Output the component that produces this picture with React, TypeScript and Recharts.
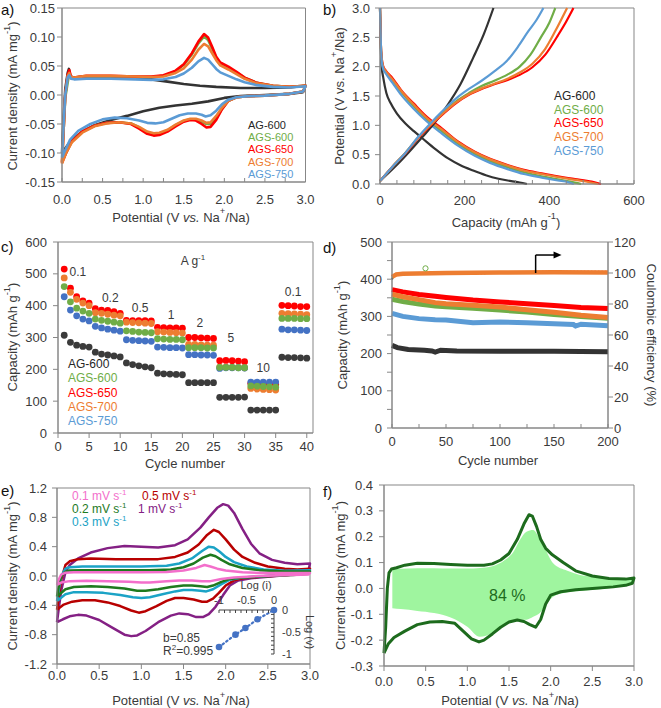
import React from "react";
import {
  ComposedChart,
  ScatterChart,
  Line,
  Area,
  Scatter,
  XAxis,
  YAxis,
  ReferenceArea,
  ReferenceDot,
  ReferenceLine,
} from "recharts";

const FONT = "'Liberation Sans', Arial, Helvetica, sans-serif";
const AXIS = "#878787";
const TXT = "#3a3a3a";

type Pt = [number, number];
type Part = { t: string; i?: boolean; s?: boolean };

// samples shared by panels a-d
const SAMPLES = ["AG-600", "AGS-600", "AGS-650", "AGS-700", "AGS-750"];
const SAMPLE_COLORS = ["#333333", "#70ad47", "#ff0000", "#ed7d31", "#5b9bd5"];
const DOT_COLORS = ["#3b3b3b", "#70ad47", "#ff0000", "#ed7d31", "#4472c4"];
const LEGEND_COLORS = ["#262626", "#70ad47", "#ff0000", "#ed7d31", "#5b9bd5"];

// ---- a) CV curves, 0.1 mV/s ----
const A_XTICKS = [0, 0.25, 0.5, 0.75, 1, 1.25, 1.5, 1.75, 2, 2.25, 2.5, 2.75, 3];
const A_XLABELS = [0, 0.5, 1, 1.5, 2, 2.5, 3];
const A_YTICKS = [-0.15, -0.1, -0.05, 0, 0.05, 0.1, 0.15];

const A_AG600: Pt[] = [
  [0, -0.1], [0.02, -0.04], [0.04, 0.01], [0.07, 0.038], [0.085, 0.045], [0.1, 0.034], [0.13, 0.03],
  [0.3, 0.032], [0.6, 0.032], [0.9, 0.03], [1.1, 0.027], [1.3, 0.023], [1.5, 0.019], [1.7, 0.016],
  [1.9, 0.014], [2.2, 0.012], [2.5, 0.012], [2.8, 0.013], [3, 0.016], [2.97, 0.005], [2.8, 0.002],
  [2.5, 0], [2.2, -0.002], [2, -0.005], [1.8, -0.011], [1.6, -0.015], [1.4, -0.018], [1.2, -0.022],
  [1, -0.028], [0.8, -0.036], [0.6, -0.043], [0.4, -0.052], [0.25, -0.063], [0.12, -0.077],
  [0.05, -0.09], [0, -0.1],
];
const A_AGS600: Pt[] = [
  [0, -0.115], [0.02, -0.06], [0.04, -0.005], [0.08, 0.03], [0.1, 0.031], [0.15, 0.03], [0.3, 0.032],
  [0.6, 0.032], [0.9, 0.031], [1.1, 0.031], [1.25, 0.033], [1.4, 0.041], [1.5, 0.052], [1.6, 0.07],
  [1.68, 0.089], [1.75, 0.101], [1.8, 0.095], [1.85, 0.08], [1.9, 0.064], [1.95, 0.054], [2.05, 0.047],
  [2.15, 0.039], [2.25, 0.03], [2.4, 0.021], [2.6, 0.016], [2.8, 0.014], [3, 0.016], [2.97, 0.006],
  [2.8, 0.002], [2.5, -0.001], [2.3, -0.002], [2.15, -0.004], [2.05, -0.01], [1.97, -0.024],
  [1.9, -0.04], [1.83, -0.05], [1.78, -0.05], [1.72, -0.046], [1.65, -0.042], [1.58, -0.042],
  [1.5, -0.045], [1.4, -0.052], [1.3, -0.061], [1.2, -0.067], [1.13, -0.068], [1.05, -0.065],
  [0.95, -0.056], [0.85, -0.049], [0.7, -0.047], [0.55, -0.048], [0.4, -0.053], [0.25, -0.063],
  [0.12, -0.08], [0.05, -0.1], [0, -0.115],
];
const A_AGS650: Pt[] = [
  [0, -0.117], [0.02, -0.06], [0.04, 0], [0.07, 0.035], [0.09, 0.043], [0.11, 0.032], [0.15, 0.03],
  [0.3, 0.033], [0.6, 0.033], [0.9, 0.032], [1.1, 0.032], [1.25, 0.034], [1.4, 0.042], [1.5, 0.053],
  [1.6, 0.072], [1.68, 0.092], [1.75, 0.105], [1.8, 0.099], [1.85, 0.083], [1.9, 0.066], [1.95, 0.056],
  [2.05, 0.049], [2.15, 0.04], [2.25, 0.03], [2.4, 0.021], [2.6, 0.016], [2.8, 0.014], [3, 0.016],
  [2.97, 0.006], [2.8, 0.002], [2.5, -0.001], [2.3, -0.002], [2.15, -0.004], [2.05, -0.01],
  [1.97, -0.025], [1.9, -0.043], [1.83, -0.055], [1.78, -0.056], [1.72, -0.05], [1.65, -0.044],
  [1.58, -0.043], [1.5, -0.046], [1.4, -0.054], [1.3, -0.063], [1.2, -0.069], [1.13, -0.07],
  [1.05, -0.067], [0.95, -0.058], [0.85, -0.05], [0.7, -0.047], [0.55, -0.048], [0.4, -0.053],
  [0.25, -0.063], [0.12, -0.08], [0.05, -0.1], [0, -0.117],
];
const A_AGS700: Pt[] = [
  [0, -0.118], [0.02, -0.06], [0.04, 0], [0.07, 0.033], [0.09, 0.038], [0.11, 0.031], [0.15, 0.03],
  [0.3, 0.033], [0.6, 0.033], [0.9, 0.032], [1.1, 0.031], [1.25, 0.032], [1.4, 0.038], [1.5, 0.046],
  [1.6, 0.061], [1.68, 0.078], [1.75, 0.088], [1.8, 0.084], [1.85, 0.072], [1.9, 0.06], [1.95, 0.051],
  [2.05, 0.044], [2.15, 0.036], [2.25, 0.028], [2.4, 0.02], [2.6, 0.016], [2.8, 0.014], [3, 0.016],
  [2.97, 0.006], [2.8, 0.002], [2.5, -0.001], [2.3, -0.002], [2.15, -0.004], [2.05, -0.01],
  [1.97, -0.022], [1.9, -0.036], [1.83, -0.047], [1.78, -0.048], [1.72, -0.044], [1.65, -0.041],
  [1.58, -0.041], [1.5, -0.044], [1.4, -0.051], [1.3, -0.06], [1.2, -0.065], [1.13, -0.066],
  [1.05, -0.063], [0.95, -0.055], [0.85, -0.049], [0.7, -0.047], [0.55, -0.049], [0.4, -0.054],
  [0.25, -0.065], [0.12, -0.082], [0.05, -0.1], [0, -0.118],
];
const A_AGS750: Pt[] = [
  [0, -0.108], [0.02, -0.05], [0.04, 0], [0.07, 0.03], [0.09, 0.034], [0.11, 0.028], [0.15, 0.027],
  [0.3, 0.028], [0.6, 0.028], [0.9, 0.027], [1.1, 0.026], [1.25, 0.027], [1.4, 0.031], [1.5, 0.037],
  [1.6, 0.047], [1.68, 0.058], [1.75, 0.064], [1.8, 0.061], [1.85, 0.053], [1.9, 0.045], [1.95, 0.039],
  [2.05, 0.033], [2.15, 0.027], [2.25, 0.022], [2.4, 0.017], [2.6, 0.014], [2.8, 0.013], [3, 0.015],
  [2.97, 0.006], [2.8, 0.002], [2.5, -0.001], [2.3, -0.002], [2.15, -0.004], [2.05, -0.008],
  [1.97, -0.016], [1.9, -0.027], [1.83, -0.035], [1.77, -0.037], [1.72, -0.034], [1.65, -0.032],
  [1.55, -0.032], [1.45, -0.035], [1.35, -0.041], [1.25, -0.047], [1.15, -0.049], [1.05, -0.048],
  [0.95, -0.044], [0.8, -0.04], [0.65, -0.039], [0.5, -0.042], [0.35, -0.05], [0.2, -0.062],
  [0.1, -0.077], [0.04, -0.095], [0, -0.108],
];
const A_LOOPS = [A_AG600, A_AGS600, A_AGS650, A_AGS700, A_AGS750];

// ---- b) charge / discharge profiles ----
const B_XTICKS = [0, 40, 80, 120, 160, 200, 240, 280, 320, 360, 400, 440, 480, 520, 560, 600];
const B_XLABELS = [0, 200, 400, 600];
const B_YTICKS = [0, 0.5, 1, 1.5, 2, 2.5, 3];

const B_CHG_AG600: Pt[] = [
  [0, 0.05], [50, 0.4], [100, 0.8], [130, 1.05], [160, 1.35], [190, 1.7], [220, 2.15], [245, 2.55], [268, 3],
];
const B_CHG_AGS600: Pt[] = [
  [0, 0.05], [30, 0.3], [60, 0.53], [90, 0.79], [120, 1.02], [150, 1.23], [180, 1.41], [210, 1.55],
  [240, 1.67], [270, 1.76], [300, 1.86], [330, 2], [355, 2.2], [380, 2.5], [400, 2.75], [414, 3],
];
const B_CHG_AGS650: Pt[] = [
  [0, 0.05], [30, 0.3], [60, 0.52], [90, 0.78], [120, 1], [150, 1.2], [180, 1.38], [210, 1.52],
  [240, 1.62], [270, 1.7], [300, 1.77], [330, 1.86], [360, 1.99], [390, 2.2], [420, 2.53], [440, 2.77], [457, 3],
];
const B_CHG_AGS700: Pt[] = [
  [0, 0.05], [30, 0.3], [60, 0.53], [90, 0.79], [120, 1.01], [150, 1.21], [180, 1.39], [210, 1.53],
  [240, 1.63], [270, 1.71], [300, 1.79], [330, 1.9], [360, 2.05], [390, 2.3], [415, 2.62], [442, 3],
];
const B_CHG_AGS750: Pt[] = [
  [0, 0.05], [30, 0.3], [60, 0.53], [90, 0.8], [120, 1.04], [150, 1.26], [180, 1.46], [210, 1.62],
  [240, 1.76], [270, 1.92], [300, 2.1], [325, 2.33], [350, 2.6], [370, 2.8], [386, 3],
];
const B_DIS_AG600: Pt[] = [
  [0, 3], [1, 2.6], [2, 2.3], [4, 2], [8, 1.8], [15, 1.55], [25, 1.38], [40, 1.2], [60, 1.03], [80, 0.9],
  [100, 0.78], [130, 0.6], [160, 0.44], [190, 0.32], [220, 0.23], [250, 0.15], [280, 0.09], [310, 0.05],
  [330, 0.025], [347, 0],
];
const B_DIS_AGS600: Pt[] = [
  [0, 3], [1, 2.7], [2, 2.4], [4, 2.12], [8, 1.97], [12, 1.92], [30, 1.76], [50, 1.57], [80, 1.32],
  [110, 1.1], [146, 0.9], [185, 0.68], [224, 0.51], [260, 0.39], [303, 0.28], [340, 0.2], [382, 0.13],
  [420, 0.08], [450, 0.04], [475, 0],
];
const B_DIS_AGS650: Pt[] = [
  [0, 3], [1, 2.7], [2, 2.4], [4, 2.15], [8, 2], [12, 1.95], [30, 1.8], [50, 1.6], [80, 1.37],
  [110, 1.15], [146, 0.95], [185, 0.72], [224, 0.55], [260, 0.43], [303, 0.32], [340, 0.24], [382, 0.18],
  [420, 0.13], [461, 0.085], [500, 0.04], [522, 0],
];
const B_DIS_AGS700: Pt[] = [
  [0, 3], [1, 2.7], [2, 2.4], [4, 2.15], [8, 1.99], [12, 1.94], [30, 1.78], [50, 1.59], [80, 1.35],
  [110, 1.13], [146, 0.93], [185, 0.71], [224, 0.54], [260, 0.42], [303, 0.31], [340, 0.23], [382, 0.17],
  [420, 0.12], [461, 0.07], [495, 0.03], [515, 0],
];
const B_DIS_AGS750: Pt[] = [
  [0, 3], [1, 2.7], [2, 2.4], [4, 2.1], [8, 1.95], [12, 1.9], [30, 1.72], [50, 1.52], [80, 1.28],
  [110, 1.07], [146, 0.86], [185, 0.65], [224, 0.48], [260, 0.36], [303, 0.25], [340, 0.17], [382, 0.11],
  [420, 0.06], [445, 0.03], [458, 0],
];
const B_CHARGE = [B_CHG_AG600, B_CHG_AGS600, B_CHG_AGS650, B_CHG_AGS700, B_CHG_AGS750];
const B_DISCHARGE = [B_DIS_AG600, B_DIS_AGS600, B_DIS_AGS650, B_DIS_AGS700, B_DIS_AGS750];

// ---- c) rate capability ----
const C_XTICKS = [0, 5, 10, 15, 20, 25, 30, 35, 40];
const C_YTICKS = [0, 100, 200, 300, 400, 500, 600];
const CYCLES = [
  1, 2, 3, 4, 5, 6, 7, 8, 9, 10, 11, 12, 13, 14, 15, 16, 17, 18, 19, 20,
  21, 22, 23, 24, 25, 26, 27, 28, 29, 30, 31, 32, 33, 34, 35, 36, 37, 38, 39, 40,
];
const C_AG600 = [
  307, 285, 276, 272, 270, 254, 248, 245, 242, 239, 220, 215, 211, 208, 205, 188, 186, 185, 184, 183,
  158, 158, 158, 158, 158, 112, 112, 112, 112, 113, 72, 72, 72, 72, 72, 238, 237, 237, 236, 235,
];
const C_AGS600 = [
  460, 412, 392, 383, 376, 358, 354, 351, 348, 345, 321, 319, 317, 316, 315, 296, 295, 294, 294, 293,
  268, 268, 268, 267, 267, 206, 206, 206, 205, 205, 148, 147, 146, 145, 144, 360, 360, 360, 359, 359,
];
const C_AGS650 = [
  515, 455, 428, 415, 408, 391, 386, 385, 381, 376, 354, 353, 353, 353, 352, 332, 331, 330, 330, 329,
  300, 300, 299, 298, 297, 227, 228, 227, 226, 224, 156, 155, 154, 154, 152, 401, 400, 399, 397, 397,
];
const C_AGS700 = [
  487, 442, 420, 408, 400, 378, 376, 373, 370, 368, 348, 347, 346, 345, 344, 318, 317, 316, 315, 314,
  278, 278, 277, 276, 276, 207, 207, 206, 206, 205, 140, 138, 137, 136, 135, 376, 375, 374, 373, 372,
];
const C_AGS750 = [
  428, 386, 368, 358, 352, 335, 330, 326, 323, 320, 293, 291, 290, 289, 288, 270, 269, 268, 268, 267,
  246, 246, 245, 245, 244, 203, 205, 205, 205, 204, 160, 160, 160, 160, 160, 326, 324, 324, 323, 322,
];
const C_SERIES = [C_AG600, C_AGS600, C_AGS650, C_AGS700, C_AGS750];
const C_DRAW_ORDER = [0, 2, 3, 4, 1];
// current density annotations (A g-1): label, cycle, capacity
const C_RATES: [string, number, number][] = [
  ["0.1", 3.2, 506], ["0.2", 8.4, 424], ["0.5", 13.2, 393], ["1", 18.2, 371],
  ["2", 22.8, 346], ["5", 27.8, 298], ["10", 33, 204], ["0.1", 37.8, 443],
];

// ---- d) long cycling ----
const D_XTICKS = [0, 25, 50, 75, 100, 125, 150, 175, 200];
const D_XLABELS = [0, 50, 100, 150, 200];
const D_YTICKS = [0, 50, 100, 150, 200, 250, 300, 350, 400, 450, 500];
const D_YLABELS = [0, 100, 200, 300, 400, 500];
const D_Y2TICKS = [0, 20, 40, 60, 80, 100, 120];

const D_CAP_AG600: Pt[] = [
  [0, 222], [5, 216], [15, 211], [30, 209], [37, 207], [40, 204], [45, 209], [60, 207], [100, 206], [150, 206], [200, 205],
];
const D_CAP_AGS600: Pt[] = [
  [0, 346], [10, 340], [25, 333], [40, 328], [50, 326], [75, 322], [100, 317], [125, 312], [150, 305], [175, 300], [200, 295],
];
const D_CAP_AGS650: Pt[] = [
  [0, 372], [10, 366], [25, 359], [40, 354], [50, 351], [75, 344], [100, 339], [125, 334], [150, 329], [175, 324], [200, 321],
];
const D_CAP_AGS700: Pt[] = [
  [0, 360], [10, 353], [25, 345], [40, 337], [50, 334], [75, 330], [100, 325], [125, 318], [150, 311], [175, 303], [200, 297],
];
const D_CAP_AGS750: Pt[] = [
  [0, 308], [10, 300], [25, 294], [40, 291], [50, 290], [75, 283], [100, 285], [125, 283], [150, 280],
  [168, 278], [170, 274], [175, 279], [200, 275],
];
const D_CE_AG600: Pt[] = [[0, 96], [3, 99], [20, 99.5], [100, 100], [200, 100]];
const D_CE_AGS600: Pt[] = [[0, 97], [3, 99], [20, 99.6], [100, 100.2], [200, 100.3]];
const D_CE_AGS650: Pt[] = [[0, 98], [4, 99.5], [50, 100.4], [100, 100.6], [150, 100.8], [200, 100.8]];
const D_CE_AGS700: Pt[] = [[0, 97.5], [4, 99], [10, 99.5], [50, 100], [100, 100.3], [150, 100.5], [200, 100.3]];
const D_CE_AGS750: Pt[] = [[0, 97], [4, 99.3], [50, 100.3], [100, 100.5], [200, 100.6]];
const D_CE_OUTLIER: Pt[] = [[31, 103]];
const D_CAP = [D_CAP_AG600, D_CAP_AGS600, D_CAP_AGS650, D_CAP_AGS700, D_CAP_AGS750];
const D_CE = [D_CE_AG600, D_CE_AGS600, D_CE_AGS650, D_CE_AGS700, D_CE_AGS750];
const D_DRAW_ORDER = [0, 4, 1, 2, 3];

// ---- e) CV at different scan rates ----
const E_XTICKS = [0, 0.5, 1, 1.5, 2, 2.5, 3];
const E_YTICKS = [-1.2, -0.8, -0.4, 0, 0.4, 0.8, 1.2];
const E_RATES = ["0.1", "0.2", "0.3", "0.5", "1"];
const E_COLORS = ["#f36fcb", "#1e7a1e", "#1ba3c6", "#b80000", "#842084"];

const E_01: Pt[] = [
  [0, -0.12], [0.02, -0.05], [0.05, 0.02], [0.1, 0.045], [0.2, 0.05], [0.6, 0.05], [1, 0.05], [1.3, 0.055],
  [1.5, 0.075], [1.65, 0.11], [1.75, 0.15], [1.82, 0.13], [1.9, 0.1], [2, 0.075], [2.2, 0.05], [2.5, 0.04],
  [3, 0.04], [2.98, 0.02], [2.7, 0.01], [2.4, 0], [2.1, -0.02], [1.95, -0.04], [1.82, -0.07], [1.72, -0.07],
  [1.6, -0.06], [1.45, -0.06], [1.3, -0.07], [1.1, -0.09], [1, -0.09], [0.85, -0.08], [0.6, -0.07],
  [0.35, -0.065], [0.15, -0.07], [0.05, -0.09], [0, -0.12],
];
const E_02: Pt[] = [
  [0, -0.28], [0.02, -0.15], [0.05, 0], [0.1, 0.06], [0.15, 0.075], [0.3, 0.08], [0.7, 0.08], [1.1, 0.08],
  [1.35, 0.09], [1.5, 0.12], [1.62, 0.17], [1.73, 0.25], [1.82, 0.29], [1.88, 0.27], [1.95, 0.22],
  [2.05, 0.16], [2.2, 0.11], [2.4, 0.08], [2.7, 0.06], [3, 0.06], [2.98, 0.03], [2.8, 0.015], [2.5, 0],
  [2.2, -0.02], [2.05, -0.04], [1.95, -0.08], [1.85, -0.13], [1.78, -0.15], [1.7, -0.14], [1.6, -0.13],
  [1.5, -0.13], [1.35, -0.15], [1.2, -0.18], [1.05, -0.2], [0.95, -0.2], [0.8, -0.17], [0.6, -0.15],
  [0.4, -0.14], [0.2, -0.15], [0.1, -0.18], [0, -0.28],
];
const E_03: Pt[] = [
  [0, -0.34], [0.02, -0.2], [0.05, 0], [0.1, 0.1], [0.15, 0.12], [0.3, 0.13], [0.6, 0.13], [1, 0.13],
  [1.3, 0.14], [1.45, 0.17], [1.6, 0.24], [1.72, 0.34], [1.8, 0.4], [1.86, 0.39], [1.93, 0.33], [2, 0.26],
  [2.1, 0.19], [2.25, 0.13], [2.45, 0.09], [2.7, 0.07], [3, 0.08], [2.98, 0.04], [2.8, 0.02], [2.5, 0],
  [2.2, -0.02], [2.05, -0.05], [1.95, -0.11], [1.85, -0.18], [1.77, -0.21], [1.7, -0.2], [1.6, -0.19],
  [1.5, -0.19], [1.4, -0.21], [1.25, -0.25], [1.1, -0.29], [1, -0.3], [0.9, -0.29], [0.75, -0.26],
  [0.55, -0.23], [0.35, -0.22], [0.2, -0.22], [0.1, -0.25], [0, -0.34],
];
const E_05: Pt[] = [
  [0, -0.46], [0.02, -0.3], [0.05, -0.05], [0.1, 0.15], [0.15, 0.2], [0.25, 0.23], [0.4, 0.24], [0.7, 0.23],
  [1, 0.23], [1.2, 0.23], [1.4, 0.26], [1.55, 0.32], [1.68, 0.43], [1.78, 0.56], [1.86, 0.63], [1.92, 0.6],
  [2, 0.5], [2.1, 0.36], [2.2, 0.26], [2.35, 0.18], [2.5, 0.13], [2.7, 0.1], [2.85, 0.09], [3, 0.1],
  [2.98, 0.05], [2.9, 0.03], [2.7, 0.01], [2.4, -0.01], [2.2, -0.03], [2.1, -0.06], [2, -0.13],
  [1.92, -0.23], [1.85, -0.31], [1.78, -0.35], [1.72, -0.35], [1.62, -0.32], [1.5, -0.3], [1.4, -0.3],
  [1.3, -0.34], [1.18, -0.41], [1.05, -0.48], [0.97, -0.5], [0.88, -0.47], [0.75, -0.41], [0.6, -0.36],
  [0.45, -0.33], [0.3, -0.33], [0.18, -0.35], [0.08, -0.39], [0, -0.46],
];
const E_10: Pt[] = [
  [0, -0.63], [0.02, -0.45], [0.05, -0.2], [0.1, 0.05], [0.15, 0.15], [0.25, 0.24], [0.4, 0.32],
  [0.6, 0.38], [0.8, 0.41], [1, 0.4], [1.2, 0.39], [1.4, 0.42], [1.55, 0.5], [1.7, 0.66], [1.8, 0.8],
  [1.9, 0.93], [1.97, 0.98], [2.03, 0.96], [2.1, 0.86], [2.2, 0.64], [2.3, 0.44], [2.4, 0.31], [2.55, 0.22],
  [2.7, 0.18], [2.85, 0.16], [3, 0.17], [2.98, 0.06], [2.9, 0.03], [2.7, 0.01], [2.5, -0.01], [2.3, -0.03],
  [2.15, -0.06], [2.05, -0.13], [1.97, -0.26], [1.88, -0.42], [1.8, -0.52], [1.73, -0.56], [1.65, -0.56],
  [1.55, -0.52], [1.45, -0.51], [1.35, -0.54], [1.2, -0.63], [1.05, -0.75], [0.95, -0.81], [0.88, -0.82],
  [0.8, -0.8], [0.65, -0.7], [0.5, -0.6], [0.35, -0.54], [0.25, -0.53], [0.15, -0.55], [0.07, -0.59], [0, -0.63],
];
const E_LOOPS = [E_01, E_02, E_03, E_05, E_10];

// inset: log(i) vs log(v)
const INSET_TICKS = [-1, -0.9, -0.8, -0.7, -0.6, -0.5, -0.4, -0.3, -0.2, -0.1, 0];
const INSET_LABELS = [-1, -0.5, 0];
const INSET_LOGI = [-1, -0.7, -0.52, -0.3, 0];
const INSET_LOGV = [-0.84, -0.56, -0.41, -0.21, 0];

// ---- f) capacitive contribution ----
const F_XTICKS = [0, 0.5, 1, 1.5, 2, 2.5, 3];
const F_YTICKS = [-0.3, -0.2, -0.1, 0, 0.1, 0.2, 0.3, 0.4];
const F_LOOP: Pt[] = [
  [0, -0.25], [0.02, -0.15], [0.04, 0], [0.06, 0.06], [0.09, 0.075], [0.15, 0.08], [0.25, 0.09], [0.4, 0.097],
  [0.6, 0.096], [0.8, 0.093], [1, 0.09], [1.2, 0.09], [1.3, 0.095], [1.4, 0.11], [1.5, 0.135], [1.6, 0.19],
  [1.68, 0.25], [1.74, 0.285], [1.78, 0.28], [1.83, 0.24], [1.88, 0.19], [1.94, 0.155], [2.02, 0.13],
  [2.15, 0.1], [2.3, 0.068], [2.5, 0.048], [2.7, 0.038], [2.9, 0.036], [3, 0.04], [2.98, 0.02], [2.9, 0.012],
  [2.75, 0.006], [2.5, 0], [2.3, -0.005], [2.12, -0.013], [2, -0.026], [1.94, -0.06], [1.88, -0.12],
  [1.82, -0.15], [1.75, -0.14], [1.68, -0.128], [1.6, -0.122], [1.5, -0.13], [1.4, -0.15], [1.3, -0.176],
  [1.2, -0.2], [1.14, -0.207], [1.05, -0.195], [0.95, -0.165], [0.85, -0.135], [0.7, -0.128], [0.55, -0.13],
  [0.4, -0.14], [0.25, -0.165], [0.12, -0.19], [0.05, -0.215], [0, -0.25],
];
const F_FILL_X = [0.1, 0.2, 0.4, 0.6, 0.8, 1, 1.15, 1.3, 1.45, 1.55, 1.63, 1.71, 1.79, 1.87, 1.93, 2.03, 2.2, 2.35, 2.55, 2.75, 2.98];
const F_FILL_HI = [0.073, 0.076, 0.078, 0.078, 0.077, 0.077, 0.079, 0.086, 0.11, 0.14, 0.187, 0.219, 0.226, 0.19, 0.155, 0.097, 0.068, 0.052, 0.044, 0.039, 0.032];
const F_FILL_LO = [-0.077, -0.08, -0.087, -0.095, -0.112, -0.148, -0.187, -0.172, -0.14, -0.125, -0.12, -0.121, -0.11, -0.095, -0.07, -0.032, -0.015, -0.01, -0.004, 0.003, 0.022];

// ---- helpers ----
const toXY = (pts: Pt[]) => pts.map(([x, y]) => ({ x, y }));
const zipXY = (xs: number[], ys: number[]) => xs.map((x, i) => ({ x, y: ys[i] }));
const fixedAt = (labels: number[] | null, digits: number) => (v: number) =>
  !labels || labels.some((l) => Math.abs(l - v) < 1e-6) ? v.toFixed(digits) : "";

const AX = { stroke: AXIS, strokeWidth: 1 };
const TICK = { fontSize: 13, fill: TXT };

const POT_TITLE: Part[] = [{ t: "Potential (V " }, { t: "vs.", i: true }, { t: " Na" }, { t: "+", s: true }, { t: "/Na)" }];
const POT_TITLE_B: Part[] = [{ t: "Potential (V vs. Na" }, { t: "+", s: true }, { t: "/Na)" }];
const CUR_TITLE: Part[] = [{ t: "Current density (mA mg" }, { t: "-1", s: true }, { t: ")" }];
const CAP_TITLE: Part[] = [{ t: "Capacity (mAh g" }, { t: "-1", s: true }, { t: ")" }];

function Rich({ x, y, parts, size = 13, fill = TXT, angle = 0 }: { x: number; y: number; parts: Part[]; size?: number; fill?: string; angle?: number }) {
  let up = false;
  const spans = parts.map((p, k) => {
    let dy: number | undefined;
    if (p.s && !up) {
      dy = -size * 0.4;
      up = true;
    } else if (!p.s && up) {
      dy = size * 0.4;
      up = false;
    }
    return (
      <tspan key={k} dy={dy} fontSize={p.s ? size * 0.72 : size} fontStyle={p.i ? "italic" : "normal"}>
        {p.t}
      </tspan>
    );
  });
  return (
    <text
      x={x}
      y={y}
      fill={fill}
      fontSize={size}
      fontFamily={FONT}
      textAnchor="middle"
      dominantBaseline="central"
      transform={angle ? `rotate(${angle} ${x} ${y})` : undefined}
    >
      {spans}
    </text>
  );
}

const title = (x: number, y: number, parts: Part[], angle = 0, size = 13) => ({
  content: () => <Rich x={x} y={y} parts={parts} angle={angle} size={size} />,
});

const Box = ({ children, left, top }: { children: React.ReactNode; left: number; top: number }) => (
  <div style={{ position: "absolute", left, top }}>{children}</div>
);

function NameList({ left, top, lh, size = 12 }: { left: number; top: number; lh: number; size?: number }) {
  return (
    <div style={{ position: "absolute", left, top, fontSize: size, lineHeight: `${lh}px`, whiteSpace: "nowrap" }}>
      {SAMPLES.map((s, i) => (
        <div key={s} style={{ color: LEGEND_COLORS[i], height: lh }}>
          {s}
        </div>
      ))}
    </div>
  );
}

// single line of text with an optional superscript and tail, vertically centred on cy
function Tag({ text, left, cy, sup, tail, color = TXT, size = 12, center = false }: { text: string; left: number; cy: number; sup?: string; tail?: string; color?: string; size?: number; center?: boolean }) {
  return (
    <div
      style={{
        position: "absolute",
        left,
        top: cy - size / 2,
        height: size,
        fontSize: size,
        lineHeight: `${size}px`,
        color,
        whiteSpace: "nowrap",
        transform: center ? "translateX(-50%)" : undefined,
      }}
    >
      {text}
      {sup && (
        <span style={{ fontSize: Math.round(size * 0.68), position: "relative", top: -size * 0.38, lineHeight: 0 }}>{sup}</span>
      )}
      {tail}
    </div>
  );
}

// ---- panels ----
function PanelA() {
  return (
    <ComposedChart width={330} height={236} margin={{ top: 8, right: 24.5, left: 2, bottom: 24 }}>
      <XAxis type="number" dataKey="x" domain={[0, 3]} ticks={A_XTICKS} interval={0} tickFormatter={fixedAt(A_XLABELS, 1)}
        height={30} tickSize={-4} tickMargin={17} tick={TICK} axisLine={AX} tickLine={AX} label={title(181, 216.5, POT_TITLE)} />
      <YAxis type="number" domain={[-0.15, 0.15]} ticks={A_YTICKS} interval={0} tickFormatter={fixedAt(null, 2)}
        width={60} tickSize={5} tickMargin={2} tick={TICK} axisLine={AX} tickLine={AX} label={title(12, 96, CUR_TITLE, -90)} />
      <ReferenceArea x1={0} x2={3} y1={-0.15} y2={0.15} fill="none" stroke={AXIS} />
      {A_LOOPS.map((loop, i) => (
        <Line key={SAMPLES[i]} data={toXY(loop)} dataKey="y" type="linear" stroke={SAMPLE_COLORS[i]} strokeWidth={2.6}
          strokeLinejoin="round" dot={false} isAnimationActive={false} />
      ))}
    </ComposedChart>
  );
}

function PanelB() {
  return (
    <ComposedChart width={331} height={236} margin={{ top: 8, right: 27, left: 5, bottom: 22 }}>
      <XAxis type="number" dataKey="x" domain={[0, 600]} ticks={B_XTICKS} interval={0} tickFormatter={fixedAt(B_XLABELS, 0)}
        height={30} tickSize={-4} tickMargin={15.5} tick={TICK} axisLine={AX} tickLine={AX} label={title(176, 221.5, CAP_TITLE)} />
      <YAxis type="number" domain={[0, 3]} ticks={B_YTICKS} interval={0} tickFormatter={fixedAt(null, 1)}
        width={45} tickSize={5} tickMargin={5} tick={TICK} axisLine={AX} tickLine={AX} label={title(9, 96, POT_TITLE_B, -90)} />
      <ReferenceArea x1={0} x2={600} y1={0} y2={3} fill="none" stroke={AXIS} />
      {B_DISCHARGE.map((c, i) => (
        <Line key={"d" + i} data={toXY(c)} dataKey="y" type="monotone" stroke={SAMPLE_COLORS[i]} strokeWidth={2.2}
          dot={false} isAnimationActive={false} />
      ))}
      {B_CHARGE.map((c, i) => (
        <Line key={"c" + i} data={toXY(c)} dataKey="y" type="monotone" stroke={SAMPLE_COLORS[i]} strokeWidth={2.2}
          dot={false} isAnimationActive={false} />
      ))}
    </ComposedChart>
  );
}

const dotShape = (color: string) => (p: any) => <circle cx={p.cx} cy={p.cy} r={3.4} fill={color} />;

function PanelC() {
  return (
    <ScatterChart width={330} height={236} margin={{ top: 6, right: 17, left: 8, bottom: 9 }}>
      <XAxis type="number" dataKey="x" domain={[0, 41]} ticks={C_XTICKS} interval={0} height={30} tickSize={5}
        tickMargin={3.5} tick={TICK} axisLine={AX} tickLine={AX} label={title(185, 226.5, [{ t: "Cycle number" }])} />
      <YAxis type="number" dataKey="y" domain={[0, 600]} ticks={C_YTICKS} interval={0} width={50} tickSize={5}
        tickMargin={6} tick={TICK} axisLine={AX} tickLine={AX} label={title(12, 101, CAP_TITLE, -90)} />
      <ReferenceArea x1={0} x2={41} y1={0} y2={600} fill="none" stroke={AXIS} />
      {C_DRAW_ORDER.map((i) => (
        <Scatter key={SAMPLES[i]} data={zipXY(CYCLES, C_SERIES[i])} shape={dotShape(DOT_COLORS[i])} isAnimationActive={false} />
      ))}
      {C_RATES.map(([t, x, y], k) => (
        <ReferenceDot key={k} x={x} y={y} r={0} fill="none" stroke="none"
          label={{ value: t, position: "center", fontSize: 12, fill: TXT }} />
      ))}
    </ScatterChart>
  );
}

const arrowHead = (p: any) => (
  <path d={`M${p.cx - 8},${p.cy - 3.6}L${p.cx},${p.cy}L${p.cx - 8},${p.cy + 3.6}Z`} fill="#000" />
);

function PanelD() {
  return (
    <ComposedChart width={331} height={236} margin={{ top: 6, right: 13, left: 12, bottom: 14 }}>
      <XAxis type="number" dataKey="x" domain={[0, 200]} ticks={D_XTICKS} interval={0} tickFormatter={fixedAt(D_XLABELS, 0)}
        height={30} tickSize={-4} tickMargin={13} tick={TICK} axisLine={AX} tickLine={AX} label={title(168, 223.5, [{ t: "Cycle number" }])} />
      <YAxis yAxisId="left" dataKey="y" type="number" domain={[0, 500]} ticks={D_YTICKS} interval={0} tickFormatter={fixedAt(D_YLABELS, 0)}
        width={50} tickSize={5} tickMargin={5} tick={TICK} axisLine={AX} tickLine={AX} label={title(12, 99, CAP_TITLE, -90)} />
      <YAxis yAxisId="right" dataKey="y" orientation="right" type="number" domain={[0, 120]} ticks={D_Y2TICKS} interval={0}
        width={40} tickSize={5} tickMargin={1} tick={TICK} axisLine={AX} tickLine={AX}
        label={title(322, 99, [{ t: "Coulombic efficiency (%)" }], 90)} />
      <ReferenceArea yAxisId="left" x1={0} x2={200} y1={0} y2={500} fill="none" stroke={AXIS} />
      {D_DRAW_ORDER.map((i) => (
        <Line key={"cap" + i} yAxisId="left" data={toXY(D_CAP[i])} dataKey="y" type="linear" stroke={SAMPLE_COLORS[i]}
          strokeWidth={5} dot={false} isAnimationActive={false} />
      ))}
      {[0, 4, 1, 2].map((i) => (
        <Line key={"ce" + i} yAxisId="right" data={toXY(D_CE[i])} dataKey="y" type="linear" stroke={SAMPLE_COLORS[i]}
          strokeWidth={2} strokeDasharray="1.5 2" dot={false} isAnimationActive={false} />
      ))}
      <Line yAxisId="right" data={toXY(D_CE[3])} dataKey="y" type="linear" stroke={SAMPLE_COLORS[3]} strokeWidth={4.5}
        dot={false} isAnimationActive={false} />
      <Scatter yAxisId="right" data={toXY(D_CE_OUTLIER)} isAnimationActive={false}
        shape={(p: any) => <circle cx={p.cx} cy={p.cy} r={2.6} fill="none" stroke="#70ad47" strokeWidth={1} />} />
      <ReferenceLine yAxisId="right" segment={[{ x: 133, y: 100 }, { x: 133, y: 111.6 }]} stroke="#000" strokeWidth={1.5} />
      <ReferenceLine yAxisId="right" segment={[{ x: 133, y: 111.6 }, { x: 151, y: 111.6 }]} stroke="#000" strokeWidth={1.5} />
      <ReferenceDot yAxisId="right" x={157} y={111.6} r={4} shape={arrowHead} />
    </ComposedChart>
  );
}

function PanelE() {
  return (
    <ComposedChart width={330} height={236} margin={{ top: 16, right: 20, left: 7, bottom: 14 }}>
      <XAxis type="number" dataKey="x" domain={[0, 3]} ticks={E_XTICKS} interval={0} tickFormatter={fixedAt(null, 1)}
        height={30} tickSize={5} tickMargin={2} tick={TICK} axisLine={AX} tickLine={AX} label={title(181, 228.3, POT_TITLE)} />
      <YAxis type="number" domain={[-1.2, 1.2]} ticks={E_YTICKS} interval={0} tickFormatter={fixedAt(null, 1)}
        width={50} tickSize={5} tickMargin={5} tick={TICK} axisLine={AX} tickLine={AX} label={title(12, 104, CUR_TITLE, -90)} />
      <ReferenceArea x1={0} x2={3} y1={-1.2} y2={1.2} fill="none" stroke={AXIS} />
      {[4, 3, 2, 1, 0].map((i) => (
        <Line key={E_RATES[i]} data={toXY(E_LOOPS[i])} dataKey="y" type="linear" stroke={E_COLORS[i]} strokeWidth={2.5}
          strokeLinejoin="round" dot={false} isAnimationActive={false} />
      ))}
    </ComposedChart>
  );
}

function InsetE() {
  const fmt = (v: number) => (INSET_LABELS.some((l) => Math.abs(l - v) < 1e-6) ? String(v) : "");
  const ax = { stroke: "#444", strokeWidth: 1 };
  const tk = { fontSize: 11, fill: TXT };
  return (
    <ComposedChart width={124} height={90} margin={{ top: 15, right: 20, left: 19, bottom: 11 }}>
      <XAxis type="number" dataKey="x" orientation="top" domain={[-1, 0]} ticks={INSET_TICKS} interval={0} tickFormatter={fmt}
        height={20} tickSize={-3} tickMargin={9} tick={tk} axisLine={ax} tickLine={ax} label={title(56, 10, [{ t: "Log (i)" }], 0, 11)} />
      <YAxis type="number" orientation="right" domain={[-1, 0]} ticks={INSET_TICKS} interval={0} tickFormatter={fmt}
        width={30} tickSize={-3} tickMargin={11} tick={tk} axisLine={ax} tickLine={ax} label={title(110, 57, [{ t: "Log (v)" }], 90, 11)} />
      <Line data={zipXY(INSET_LOGI, INSET_LOGV)} dataKey="y" type="linear" stroke="#4472c4" strokeWidth={2.2}
        strokeDasharray="1.5 3" strokeLinecap="round" dot={{ r: 3.3, fill: "#4472c4", stroke: "none" }} isAnimationActive={false} />
    </ComposedChart>
  );
}

function PanelF() {
  const fill = F_FILL_X.map((x, i) => ({ x, range: [F_FILL_LO[i], F_FILL_HI[i]] }));
  return (
    <ComposedChart width={331} height={236} data={fill} margin={{ top: 13, right: 27, left: 9, bottom: 12 }}>
      <XAxis type="number" dataKey="x" domain={[0, 3]} ticks={F_XTICKS} interval={0} tickFormatter={fixedAt(null, 1)}
        height={30} tickSize={5} tickMargin={6} tick={TICK} axisLine={AX} tickLine={AX} label={title(180, 228.3, POT_TITLE)} />
      <YAxis type="number" domain={[-0.3, 0.4]} ticks={F_YTICKS} interval={0} tickFormatter={fixedAt(null, 1)}
        width={45} tickSize={5} tickMargin={6} tick={TICK} axisLine={AX} tickLine={AX} label={title(10, 103.5, CUR_TITLE, -90)} />
      <ReferenceArea x1={0} x2={3} y1={-0.3} y2={0.4} fill="none" stroke={AXIS} />
      <Area dataKey="range" type="monotone" fill="#9ff59f" fillOpacity={1} stroke="none" isAnimationActive={false} />
      <Line data={toXY(F_LOOP)} dataKey="y" type="linear" stroke="#1d6b1d" strokeWidth={3} strokeLinejoin="round"
        dot={false} isAnimationActive={false} />
      <ReferenceDot x={1.48} y={-0.026} r={0} fill="none" stroke="none"
        label={{ value: "84 %", position: "center", fontSize: 16, fill: "#1d6b1d" }} />
    </ComposedChart>
  );
}

export default function App() {
  return (
    <div style={{ position: "absolute", left: 0, top: 0, width: 661, height: 708, background: "#fff", fontFamily: FONT, overflow: "hidden" }}>
      <Box left={0} top={0}><PanelA /></Box>
      <Box left={330} top={0}><PanelB /></Box>
      <Box left={0} top={236}><PanelC /></Box>
      <Box left={330} top={236}><PanelD /></Box>
      <Box left={0} top={472}><PanelE /></Box>
      <Box left={200} top={575}><InsetE /></Box>
      <Box left={330} top={472}><PanelF /></Box>

      <NameList left={248} top={119} lh={12.2} size={11} />
      <NameList left={554} top={90} lh={13.7} />
      <NameList left={68} top={357} lh={14.3} />

      <Tag text="A g" sup="-1" left={193} cy={261} center />
      <Tag text="0.1 mV s" sup="-1" left={72} cy={496} color={E_COLORS[0]} />
      <Tag text="0.5 mV s" sup="-1" left={142} cy={496} color={E_COLORS[3]} />
      <Tag text="0.2 mV s" sup="-1" left={72} cy={509} color={E_COLORS[1]} />
      <Tag text="1 mV s" sup="-1" left={138} cy={509} color={E_COLORS[4]} />
      <Tag text="0.3 mV s" sup="-1" left={72} cy={522} color={E_COLORS[2]} />
      <Tag text="b=0.85" left={163} cy={638} />
      <Tag text="R" sup="2" tail="=0.995" left={163} cy={651} />

      <Tag text="a)" left={1} cy={9} size={15} color="#111" />
      <Tag text="b)" left={323} cy={9} size={15} color="#111" />
      <Tag text="c)" left={1} cy={246} size={15} color="#111" />
      <Tag text="d)" left={323} cy={247} size={15} color="#111" />
      <Tag text="e)" left={1} cy={490} size={15} color="#111" />
      <Tag text="f)" left={323} cy={491} size={15} color="#111" />
    </div>
  );
}
